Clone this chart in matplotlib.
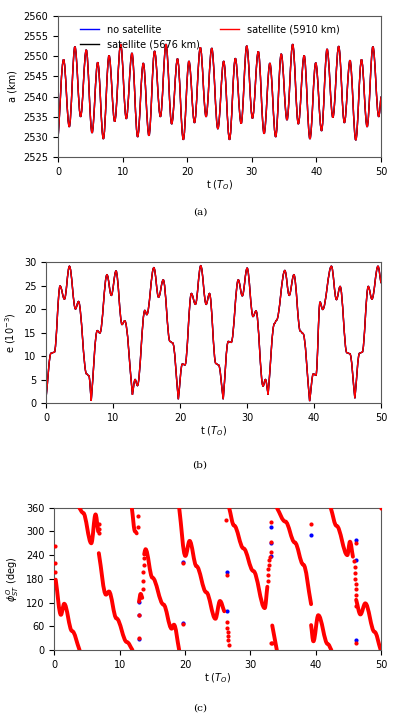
import numpy as np
import matplotlib
matplotlib.use("Agg")
import matplotlib.pyplot as plt
from matplotlib.path import Path
from matplotlib.patches import PathPatch
from matplotlib.lines import Line2D

plt.rcParams['font.family'] = ['DejaVu Sans']
plt.rcParams['font.size'] = 7

# ---- (a) semi-major axis: turning points ----
a_t = [0, 0.87, 1.74, 2.62, 3.5, 4.37, 5.27, 6.15, 7.02, 7.9, 8.78, 9.7, 10.57,
       11.45, 12.33, 13.2, 14.08, 14.95, 15.85, 16.72, 17.6, 18.5, 19.4, 20.27,
       21.13, 22.03, 22.92, 23.8, 24.75, 25.65, 26.55, 27.45, 28.35, 29.22, 30.1,
       31.0, 31.9, 32.8, 33.7, 34.55, 35.45, 36.33, 37.2, 38.1, 39.0, 39.9, 40.8,
       41.65, 42.55, 43.45, 44.33, 45.2, 46.1, 46.98, 47.85, 48.75, 49.65, 50.0]
a_km = [2529.3, 2549.2, 2532.5, 2552.4, 2535.0, 2551.6, 2531.0, 2548.5, 2529.5,
        2550.2, 2533.8, 2553.0, 2534.5, 2550.8, 2530.0, 2548.3, 2530.3, 2551.3,
        2535.0, 2553.0, 2533.2, 2549.4, 2529.3, 2548.8, 2533.5, 2552.2, 2535.0,
        2552.0, 2532.0, 2548.8, 2529.3, 2549.5, 2533.3, 2552.6, 2534.6, 2551.2,
        2530.8, 2548.3, 2530.0, 2550.6, 2534.2, 2553.0, 2533.2, 2550.2, 2529.5,
        2548.4, 2531.5, 2551.8, 2534.8, 2552.5, 2533.5, 2549.0, 2529.2, 2549.2,
        2532.5, 2552.4, 2535.0, 2540.0]

# ---- (b) eccentricity (1e-3): turning points and shoulders ----
e_t = [0, 0.75, 1.25, 2.1, 2.75, 3.5, 4.4, 4.85, 6.05, 6.4, 6.75, 7.65, 8.05,
       9.1, 9.75, 10.45, 11.35, 11.75, 12.9, 13.3, 13.65, 14.75, 15.05, 16.1,
       16.8, 17.5, 18.5, 18.9, 19.75, 20.35, 20.75, 21.7, 22.3, 23.1, 23.9, 24.4,
       25.35, 25.75, 26.45, 27.2, 27.65, 28.7, 29.3, 30.02, 30.9, 31.35, 32.4,
       32.75, 33.15, 34.1, 34.4, 35.65, 36.3, 37.0, 37.95, 38.35, 39.35, 39.9,
       40.3, 40.9, 41.3, 42.6, 43.35, 43.9, 44.9, 45.35, 46.1, 46.8, 47.2, 48.1,
       48.65, 49.55, 50.0]
e_val = [1.0, 10.6, 10.8, 24.9, 22.1, 29.1, 20.0, 21.6, 6.2, 5.8, 0.5, 15.4, 14.9,
         27.3, 22.9, 28.1, 16.7, 17.5, 1.8, 5.0, 3.7, 19.7, 18.8, 28.8,
         22.5, 26.2, 13.1, 12.8, 0.8, 8.3, 8.1, 23.3, 21.0, 29.2, 21.0, 23.3,
         8.4, 8.1, 0.8, 13.1, 12.9, 26.2, 22.8, 28.7, 18.4, 19.6, 3.6,
         5.0, 1.8, 16.9, 17.6, 28.2, 22.9, 27.3, 15.3, 14.8, 0.4, 6.2,
         5.9, 21.5, 19.9, 29.1, 22.0, 24.8, 10.7, 10.5, 1.0, 10.6, 10.8, 24.8,
         22.1, 29.1, 25.5]

# ---- (c) resonant angle: dense branches (nan = break) ----
nan = np.nan
phi_t = [0.2, 1.0, 1.5, 2.7, 3.85, nan,
         3.8, 4.4, 5.65, 6.3, 6.7, nan,
         6.8, 7.9, 8.35, 9.5, 11.1, 11.95, nan,
         11.85, 12.35, 12.6, nan,
         12.95, 13.2, 13.45, nan,
         13.75, 13.95, 15.0, 16.7, 17.95, 18.3, 19.1, nan,
         19.1, 20.05, 20.7, 21.75, 23.25, 24.65, 25.35, 26.0, nan,
         26.75, 27.5, 28.95, 30.45, 32.2, 32.6, nan,
         33.35, 34.05, nan,
         34.05, 35.35, 36.8, 38.1, 39.3, nan,
         39.3, 39.65, 40.4, 41.85, 42.4, nan,
         42.3, 43.2, 44.85, 45.25, 45.7, nan,
         46.2, 46.85, 47.6, 49.0, 49.95]
phi_deg = [178, 89, 117, 48, 0, nan,
           360, 347, 270, 343, 300, nan,
           245, 140, 148, 80, 20, 0, nan,
           360, 300, 295, nan,
           122, 142, 132, nan,
           242, 255, 183, 115, 54, 64, 0, nan,
           360, 238, 276, 212, 146, 79, 124, 98, nan,
           360, 315, 257, 200, 106, 160, nan,
           62, 0, nan,
           360, 325, 272, 216, 116, nan,
           63, 22, 88, 15, 0, nan,
           360, 314, 240, 274, 236, nan,
           127, 90, 118, 46, 0]

# scattered single samples
red_t = [0.05, 0.1, 0.15,
         6.8, 6.85, 6.9,
         12.85, 12.85, 12.9, 12.9,
         13.5, 13.55, 13.6, 13.65, 13.7,
         19.65, 19.65,
         26.3, 26.35, 26.45, 26.5, 26.55, 26.6, 26.65, 26.7,
         32.65, 32.7, 32.75, 32.8, 32.9, 33.0, 33.1, 33.2, 33.2, 33.2, 33.3,
         39.3,
         45.9, 45.95, 46.0, 46.05, 46.1, 46.1, 46.15, 46.15, 46.1, 46.1,
         50.0]
red_phi = [262, 220, 198,
           318, 305, 296,
           338, 312, 88, 30,
           155, 175, 198, 215, 232,
           219, 66,
           330, 190, 70, 55, 45, 35, 25, 12,
           175, 190, 205, 215, 228, 236, 249, 274, 325, 17, 17,
           318,
           225, 210, 195, 180, 168, 155, 140, 112, 270, 17,
           358]
blue_t = [12.9, 12.9, 12.9, 19.65, 19.65, 26.35, 26.5, 33.2, 33.2, 33.15, 39.3,
          46.1, 46.1, 46.1]
blue_phi = [122, 88, 28, 223, 69, 198, 99, 312, 238, 270, 291,
            278, 228, 25]


def smooth_path(t, y, sharp=None):
    # cubic segments, flat tangents at turning points
    t = np.asarray(t, float)
    y = np.asarray(y, float)
    n = len(t)
    if sharp is None:
        sharp = np.zeros(n, bool)
    verts, codes = [], []
    new = True
    for i in range(n):
        if np.isnan(t[i]):
            new = True
            continue
        if new:
            verts.append((t[i], y[i]))
            codes.append(Path.MOVETO)
            new = False
            continue
        t0, y0, t1, y1 = t[i-1], y[i-1], t[i], y[i]
        dt = t1 - t0
        chord = (y1 - y0) / dt
        first = i - 1 == 0 or np.isnan(t[i-2])
        last = i == n - 1 or np.isnan(t[i+1])
        s0 = chord if (first or sharp[i-1]) else 0.0
        s1 = chord if (last or sharp[i]) else 0.0
        k = 0.36 * dt
        verts += [(t0 + k, y0 + s0*k), (t1 - k, y1 - s1*k), (t1, y1)]
        codes += [Path.CURVE4] * 3
    return Path(verts, codes)


fig = plt.figure(figsize=(4, 7.18), dpi=100)
ax1 = fig.add_axes([0.145, 0.7813, 0.8075, 0.1964])
ax2 = fig.add_axes([0.115, 0.4387, 0.8375, 0.1964])
ax3 = fig.add_axes([0.136, 0.0947, 0.8165, 0.1982])

# (a)
for c in ['blue', 'black', 'red']:
    ax1.add_patch(PathPatch(smooth_path(a_t, a_km), fill=False, ec=c, lw=1.0))
ax1.set_xlim(0, 50)
ax1.set_ylim(2525, 2560)
ax1.set_yticks(np.arange(2525, 2561, 5))
ax1.set_ylabel("a (km)")
ax1.set_xlabel(r"t ($T_O$)", labelpad=1)
handles = [Line2D([], [], color='blue', lw=1.0),
           Line2D([], [], color='black', lw=1.0),
           Line2D([], [], color='red', lw=1.0)]
ax1.legend(handles, ["no satellite", "satellite (5676 km)", "satellite (5910 km)"],
           ncol=2, loc='upper center', bbox_to_anchor=(0.47, 1.0), frameon=False,
           fontsize=7, borderaxespad=0.5, labelspacing=0.45)

# (b)
e_arr = np.array(e_val)
sharp = e_arr < 2.5
for c in ['blue', 'black', 'red']:
    ax2.add_patch(PathPatch(smooth_path(e_t, e_val, sharp), fill=False, ec=c, lw=1.0))
ax2.set_xlim(0, 50)
ax2.set_ylim(0, 30)
ax2.set_ylabel(r"e ($10^{-3}$)")
ax2.set_xlabel(r"t ($T_O$)", labelpad=1)

# (c)
ax3.scatter(blue_t, blue_phi, s=9, color='blue', lw=0, zorder=2)
ax3.add_patch(PathPatch(smooth_path(phi_t, phi_deg), fill=False, ec='red', lw=2.8,
                        capstyle='round', joinstyle='round', zorder=3))
ax3.scatter(red_t, red_phi, s=9, color='red', lw=0, zorder=3)
ax3.set_xlim(0, 50)
ax3.set_ylim(0, 360)
ax3.set_yticks(np.arange(0, 361, 60))
ax3.set_ylabel(r"$\phi^{O}_{ST}$ (deg)")
ax3.set_xlabel(r"t ($T_O$)", labelpad=1)

for ax in [ax1, ax2, ax3]:
    ax.set_xticks(np.arange(0, 51, 10))
    for sp in ax.spines.values():
        sp.set_color('0.35')

fig.text(0.5, 0.7047, "(a)", ha='center', va='center', family='DejaVu Serif', fontsize=7.5)
fig.text(0.5, 0.3524, "(b)", ha='center', va='center', family='DejaVu Serif', fontsize=7.5)
fig.text(0.5, 0.0139, "(c)", ha='center', va='center', family='DejaVu Serif', fontsize=7.5)

fig.savefig("out.png", dpi=100)
